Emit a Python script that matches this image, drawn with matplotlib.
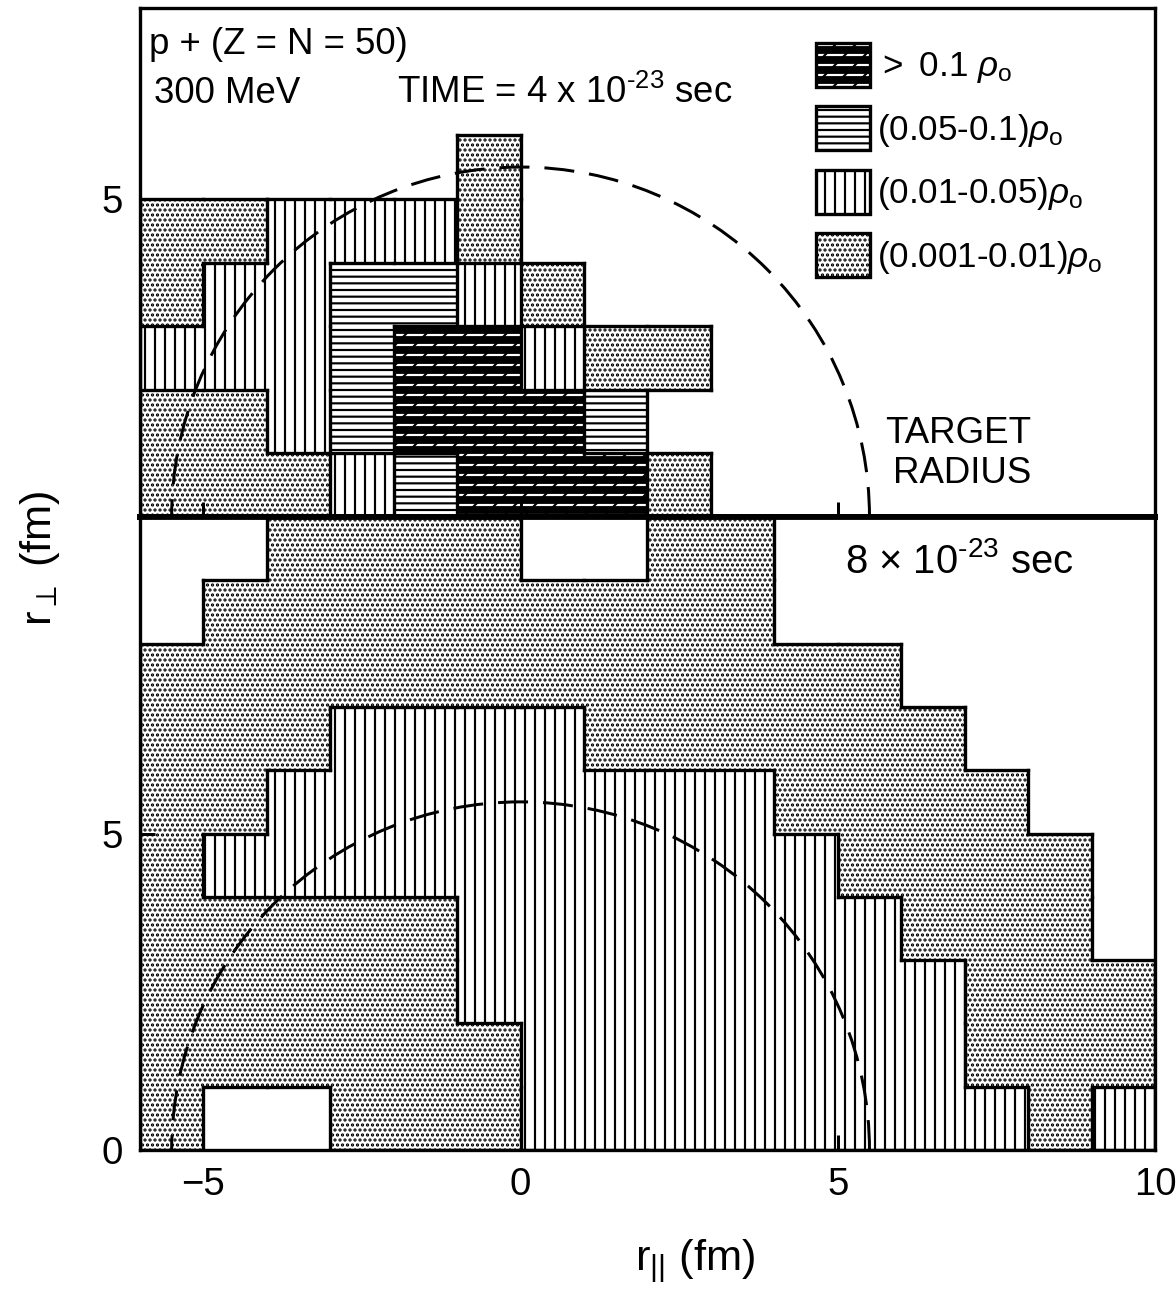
import numpy as np
import matplotlib
matplotlib.use("Agg")
import matplotlib.pyplot as plt
from matplotlib.patches import Patch, Arc
from matplotlib.collections import LineCollection
from matplotlib.legend_handler import HandlerTuple

plt.rcParams['font.family'] = ['Liberation Sans', 'DejaVu Sans']
plt.rcParams['mathtext.fontset'] = 'custom'
plt.rcParams['mathtext.rm'] = 'Liberation Sans'
plt.rcParams['mathtext.it'] = 'Liberation Sans:italic'
plt.rcParams['mathtext.bf'] = 'Liberation Sans:bold'
plt.rcParams['hatch.linewidth'] = 1.3

# density class of each 1 fm cell: 0 empty, 1 (0.001-0.01), 2 (0.01-0.05),
# 3 (0.05-0.1), 4 (>0.1) rho_o.  rows start at r_perp = 0
level_labels = [r'$>$ 0.1 $\rho_{\mathrm{o}}$',
                r'(0.05-0.1)$\rho_{\mathrm{o}}$',
                r'(0.01-0.05)$\rho_{\mathrm{o}}$',
                r'(0.001-0.01)$\rho_{\mathrm{o}}$']
level_order = [4, 3, 2, 1]

# TIME = 4e-23 sec, columns r_par = -6 .. 2
x0_early = -6
grid_early = [
    [1, 1, 1, 2, 3, 4, 4, 4, 1],
    [1, 1, 2, 3, 4, 4, 4, 3, 0],
    [2, 2, 2, 3, 4, 4, 2, 1, 1],
    [1, 2, 2, 3, 3, 2, 1, 0, 0],
    [1, 1, 2, 2, 2, 1, 0, 0, 0],
    [0, 0, 0, 0, 0, 1, 0, 0, 0],
]

# TIME = 8e-23 sec, columns r_par = -6 .. 9
x0_late = -6
grid_late = [
    [1, 0, 0, 1, 1, 1, 2, 2, 2, 2, 2, 2, 2, 2, 1, 2],
    [1, 1, 1, 1, 1, 1, 2, 2, 2, 2, 2, 2, 2, 1, 1, 1],
    [1, 1, 1, 1, 1, 2, 2, 2, 2, 2, 2, 2, 2, 1, 1, 1],
    [1, 1, 1, 1, 1, 2, 2, 2, 2, 2, 2, 2, 1, 1, 1, 0],
    [1, 2, 2, 2, 2, 2, 2, 2, 2, 2, 2, 1, 1, 1, 1, 0],
    [1, 1, 2, 2, 2, 2, 2, 2, 2, 2, 1, 1, 1, 1, 0, 0],
    [1, 1, 1, 2, 2, 2, 2, 1, 1, 1, 1, 1, 1, 0, 0, 0],
    [1, 1, 1, 1, 1, 1, 1, 1, 1, 1, 1, 1, 0, 0, 0, 0],
    [0, 1, 1, 1, 1, 1, 1, 1, 1, 1, 0, 0, 0, 0, 0, 0],
    [0, 0, 1, 1, 1, 1, 0, 0, 1, 1, 0, 0, 0, 0, 0, 0],
]

target_radius = 5.5

styles = {
    1: dict(color='white', edgecolor='black', hatch='....'),
    2: dict(color='white', edgecolor='black', hatch='||'),
    3: dict(color='white', edgecolor='black', hatch='---'),
    4: dict(color='black', edgecolor='white', hatch='--'),
}


def draw_panel(ax, grid, x0):
    g = np.array(grid)
    nrow, ncol = g.shape
    xs = x0 + np.arange(ncol)
    for r in range(nrow):
        for k, st in styles.items():
            sel = g[r] == k
            if not sel.any():
                continue
            ax.bar(xs[sel], 1, width=1, bottom=r, align='edge', linewidth=0, **st)
            if k == 4:
                ax.bar(xs[sel], 1, width=1, bottom=r, align='edge', linewidth=0,
                       color='none', edgecolor='black', hatch='//')
    # outline wherever neighbouring cells belong to different classes
    p = np.pad(g, 1)
    segs = []
    for r in range(nrow):
        for j in range(ncol + 1):
            if p[r + 1, j] != p[r + 1, j + 1]:
                segs.append([(x0 + j, r), (x0 + j, r + 1)])
    for r in range(nrow + 1):
        for j in range(ncol):
            if p[r, j + 1] != p[r + 1, j + 1]:
                segs.append([(x0 + j, r), (x0 + j + 1, r)])
    ax.add_collection(LineCollection(segs, colors='black', linewidths=2.0,
                                     capstyle='projecting', zorder=3))
    ax.add_patch(Arc((0, 0), 2 * target_radius, 2 * target_radius, theta1=0, theta2=180,
                     linestyle=(0, (10, 5)), linewidth=1.8, color='black', zorder=4))
    ax.set_xlim(-6, 10)
    ax.set_xticks([-5, 0, 5, 10])
    ax.tick_params(direction='in', length=9, width=1.8, labelsize=23, pad=10)
    for s in ax.spines.values():
        s.set_linewidth(2)


fig = plt.figure(figsize=(9.8, 10.7417), dpi=120)
ax_top = fig.add_axes([0.1190, 0.5989, 0.8631, 0.3949])
ax_bot = fig.add_axes([0.1190, 0.1078, 0.8631, 0.4911])

draw_panel(ax_top, grid_early, x0_early)
draw_panel(ax_bot, grid_late, x0_late)

ax_top.set_ylim(0, 8)
ax_top.set_yticks([5])
ax_top.tick_params(labelbottom=False)
ax_top.spines['bottom'].set_linewidth(3.5)
ax_bot.set_ylim(0, 10)
ax_bot.set_yticks([0, 5])
ax_bot.spines['top'].set_linewidth(3.5)

ax_top.text(-5.85, 7.28, 'p + (Z = N = 50)', fontsize=22)
ax_top.text(-5.78, 6.51, '300 MeV', fontsize=22)
ax_top.text(-1.95, 6.51, r'TIME = 4 x 10$^{\text{-23}}$ sec', fontsize=22)
ax_top.text(8.05, 0.53, 'TARGET\nRADIUS', ha='right', ma='right', va='baseline', fontsize=22)
ax_bot.text(5.12, 9.11, r'8 $\times$ 10$^{\text{-23}}$ sec', fontsize=24)

handles = []
for k in level_order:
    st = styles[k]
    if k == 4:
        handles.append((Patch(facecolor='black', edgecolor='white', hatch='--', linewidth=0),
                        Patch(facecolor='none', edgecolor='black', hatch='//', linewidth=2)))
    else:
        handles.append(Patch(facecolor='white', edgecolor='black', hatch=st['hatch'], linewidth=2))
ax_top.legend(handles, level_labels, loc='upper left', bbox_to_anchor=(0.666, 0.932),
              frameon=False, fontsize=21, handlelength=1.54, handleheight=1.557,
              handletextpad=0.2, labelspacing=0.56, borderpad=0, borderaxespad=0,
              handler_map={tuple: HandlerTuple(ndivide=1, pad=0)})

fig.text(0.591, 0.0147, r'r$_{||}$ (fm)', ha='center', va='baseline', fontsize=26)
fig.text(0.034, 0.567, r'r$_{\perp}$ (fm)', ha='center', va='center', rotation=90, fontsize=26)

fig.savefig('out.png', dpi=120)
